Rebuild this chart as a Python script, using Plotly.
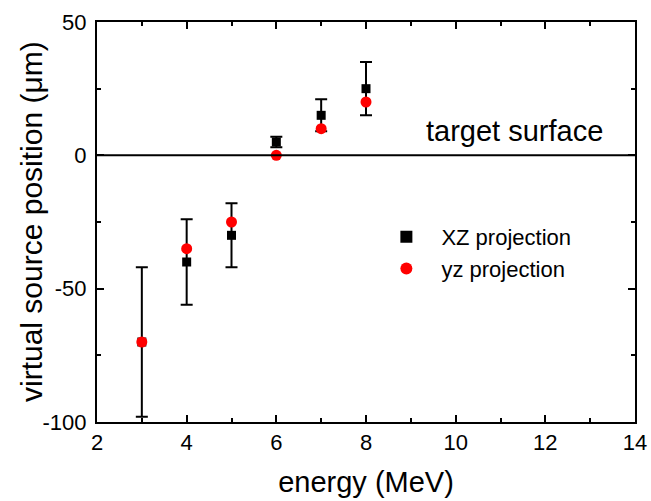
import plotly.graph_objects as go

energy = [3, 4, 5, 6, 7, 8]
xz_pos = [-70, -40, -30, 5, 15, 25]
xz_err = [28, 16, 12, 2, 6, 10]
yz_pos = [-70, -35, -25, 0, 10, 20]

x_ticks = [2, 4, 6, 8, 10, 12, 14]
y_ticks = [-100, -50, 0, 50]
y_ticklabels = ["-100", "-50", "0", "50"]

FONT = "Liberation Sans, Arial, sans-serif"

fig = go.Figure()
fig.add_trace(go.Scatter(
    x=energy, y=xz_pos, mode="markers", name="XZ projection",
    marker=dict(symbol="square", size=9, color="black"),
    error_y=dict(type="data", array=xz_err, visible=True, color="black", thickness=2, width=6),
))
fig.add_trace(go.Scatter(
    x=energy, y=yz_pos, mode="markers", name="yz projection",
    marker=dict(symbol="circle", size=11, color="red"),
))

fig.add_shape(type="line", xref="paper", yref="y", x0=0, x1=1, y0=0, y1=0,
              line=dict(color="black", width=2))
fig.add_annotation(x=1, y=0, xref="paper", yref="y", xanchor="right", yanchor="bottom",
                   xshift=-30, yshift=6, text="target surface",
                   showarrow=False, font=dict(family=FONT, size=29, color="black"))
fig.add_annotation(x=0, y=0.5, xref="paper", yref="paper", xanchor="center", yanchor="middle",
                   xshift=-66, text="virtual source position (μm)", textangle=-90,
                   showarrow=False, font=dict(family=FONT, size=30, color="black"))

axis_common = dict(
    showline=True, linecolor="black", linewidth=2, mirror="ticks",
    ticks="inside", ticklen=7, tickwidth=1.5, tickcolor="black",
    showgrid=False, zeroline=False, automargin=False,
    tickfont=dict(family=FONT, size=22, color="black"),
)
fig.update_xaxes(range=[2, 14], tickvals=x_ticks,
                 minor=dict(ticks="inside", ticklen=4, tickwidth=1.5, tickcolor="black", dtick=1),
                 title=dict(text="energy (MeV)", font=dict(family=FONT, size=29, color="black"), standoff=17),
                 **axis_common)
fig.update_yaxes(range=[-100, 50], tickvals=y_ticks, ticktext=y_ticklabels,
                 minor=dict(ticks="inside", ticklen=4, tickwidth=1.5, tickcolor="black", dtick=25),
                 ticklabelstandoff=4,
                 **axis_common)

fig.update_layout(
    width=651, height=501,
    margin=dict(l=97, r=16, t=22, b=79),
    plot_bgcolor="white", paper_bgcolor="white",
    showlegend=True,
    legend=dict(x=0.51, y=0.515, xanchor="left", yanchor="top",
                bgcolor="rgba(0,0,0,0)", font=dict(family=FONT, size=22, color="black"),
                itemsizing="constant", itemwidth=60),
)

fig.write_html("out.html")
